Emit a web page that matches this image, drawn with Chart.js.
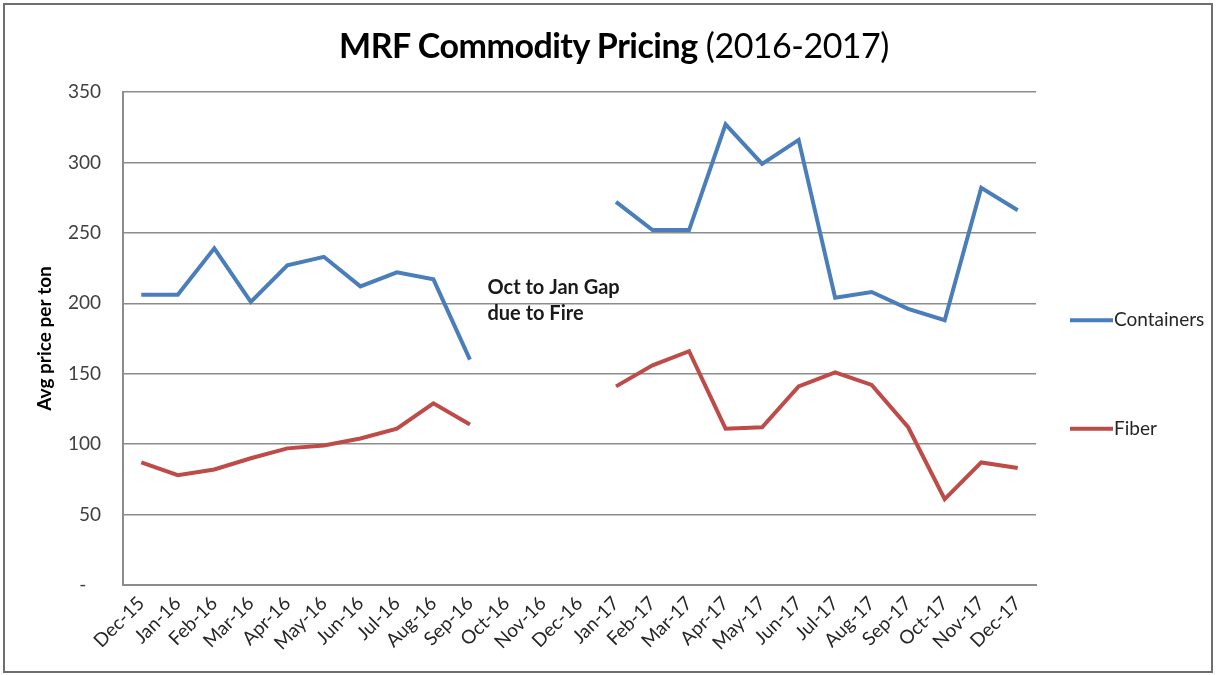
<!DOCTYPE html>
<html>
<head>
<meta charset="utf-8">
<title>MRF Commodity Pricing (2016-2017)</title>
<script src="https://cdn.jsdelivr.net/npm/chart.js@4/dist/chart.umd.min.js"></script>
<style>
    html, body { margin: 0; padding: 0; background: #ffffff; }
    #wrap { position: relative; width: 1216px; height: 675px; overflow: hidden; }
    #frame {
        position: absolute; left: 3px; top: 3px; width: 1206px; height: 666px;
        border: 2px solid #6f6f6f; pointer-events: none;
    }
    #chartTitle {
        position: absolute; left: 6px; top: 25px; width: 1216px; text-align: center;
        font-family: Lato, "Open Sans", sans-serif; font-size: 34px; color: #000000;
        line-height: 40px; letter-spacing: -0.5px;
    }
    #chartTitle b { font-weight: 700; }
    #chartTitle span { font-weight: 400; }
    canvas { position: absolute; left: 0; top: 0; }
</style>
</head>
<body>
<div id="wrap">
    <canvas id="pricingChart" width="1216" height="675"></canvas>
    <div id="chartTitle"><b>MRF Commodity Pricing</b> <span>(2016-2017)</span></div>
    <div id="frame"></div>
</div>
<script>
// Months on the category axis
const months = [
    'Dec-15', 'Jan-16', 'Feb-16', 'Mar-16', 'Apr-16', 'May-16', 'Jun-16', 'Jul-16',
    'Aug-16', 'Sep-16', 'Oct-16', 'Nov-16', 'Dec-16', 'Jan-17', 'Feb-17', 'Mar-17',
    'Apr-17', 'May-17', 'Jun-17', 'Jul-17', 'Aug-17', 'Sep-17', 'Oct-17', 'Nov-17', 'Dec-17'
];

// Avg price per ton (null = gap, Oct to Jan)
const containers = [206, 206, 239, 201, 227, 233, 212, 222, 217, 160, null, null, null,
    272, 252, 252, 327, 299, 316, 204, 208, 196, 188, 282, 266];
const fiber = [87, 78, 82, 90, 97, 99, 104, 111, 129, 114, null, null, null,
    141, 156, 166, 111, 112, 141, 151, 142, 112, 61, 87, 83];

const yTicks = [0, 50, 100, 150, 200, 250, 300, 350];
const noteLines = ['Oct to Jan Gap', 'due to Fire'];

const FONT = 'Lato, "Open Sans", sans-serif';
const GRID = '#8c8c8c';

// Note text placed next to the gap
const notePlugin = {
    id: 'gapNote',
    afterDatasetsDraw(chart) {
        const { ctx, scales } = chart;
        const x = scales.x.getPixelForValue(10) - 19;
        const y = scales.y.getPixelForValue(211);
        ctx.save();
        ctx.font = `bold 20px ${FONT}`;
        ctx.fillStyle = '#1a1a1a';
        ctx.textBaseline = 'middle';
        noteLines.forEach((line, i) => ctx.fillText(line, x, y + i * 26));
        ctx.restore();
    }
};

// Legend on the right, one entry per series
const legendPlugin = {
    id: 'sideLegend',
    afterDraw(chart) {
        const { ctx, scales } = chart;
        const anchors = [scales.y.getPixelForValue(188), scales.y.getPixelForValue(111)];
        ctx.save();
        ctx.font = `19px ${FONT}`;
        ctx.textBaseline = 'middle';
        chart.data.datasets.forEach((ds, i) => {
            const y = anchors[i];
            ctx.strokeStyle = ds.borderColor;
            ctx.lineWidth = 4;
            ctx.beginPath();
            ctx.moveTo(1070, y);
            ctx.lineTo(1113, y);
            ctx.stroke();
            ctx.fillStyle = '#262626';
            ctx.fillText(ds.label, 1114, y);
        });
        ctx.restore();
    }
};

new Chart(document.getElementById('pricingChart').getContext('2d'), {
    type: 'line',
    data: {
        labels: months,
        datasets: [
            {
                label: 'Containers',
                data: containers,
                borderColor: '#4a7ebb',
                backgroundColor: '#4a7ebb',
                borderWidth: 4,
                pointRadius: 0,
                tension: 0,
                spanGaps: false
            },
            {
                label: 'Fiber',
                data: fiber,
                borderColor: '#be4b48',
                backgroundColor: '#be4b48',
                borderWidth: 4,
                pointRadius: 0,
                tension: 0,
                spanGaps: false
            }
        ]
    },
    options: {
        responsive: false,
        animation: false,
        layout: { padding: { top: 92, right: 180, bottom: 0, left: 0 } },
        plugins: {
            legend: { display: false },
            title: { display: false },
            tooltip: { enabled: false }
        },
        scales: {
            x: {
                offset: true,
                grid: { display: false, drawTicks: false },
                border: { display: true, color: GRID, width: 2 },
                ticks: {
                    autoSkip: false,
                    maxRotation: 45,
                    minRotation: 45,
                    padding: 7,
                    color: '#262626',
                    font: { family: FONT, size: 19 }
                },
                afterFit: (s) => { s.height = 90; }
            },
            y: {
                min: 0,
                max: 350,
                afterBuildTicks: (s) => { s.ticks = yTicks.map(v => ({ value: v })); },
                grid: { color: GRID, lineWidth: 1.5, drawTicks: false },
                border: { display: true, color: GRID, width: 2 },
                ticks: {
                    padding: 22,
                    color: '#404040',
                    font: { family: FONT, size: 19 },
                    callback: (v) => v === 0 ? '-   ' : v
                },
                title: {
                    display: true,
                    text: 'Avg price per ton',
                    color: '#000000',
                    font: { family: FONT, size: 19, weight: 'bold' },
                    padding: { top: 33, bottom: 0 }
                },
                afterFit: (s) => { s.width = 123; }
            }
        }
    },
    plugins: [notePlugin, legendPlugin]
});
</script>
</body>
</html>
